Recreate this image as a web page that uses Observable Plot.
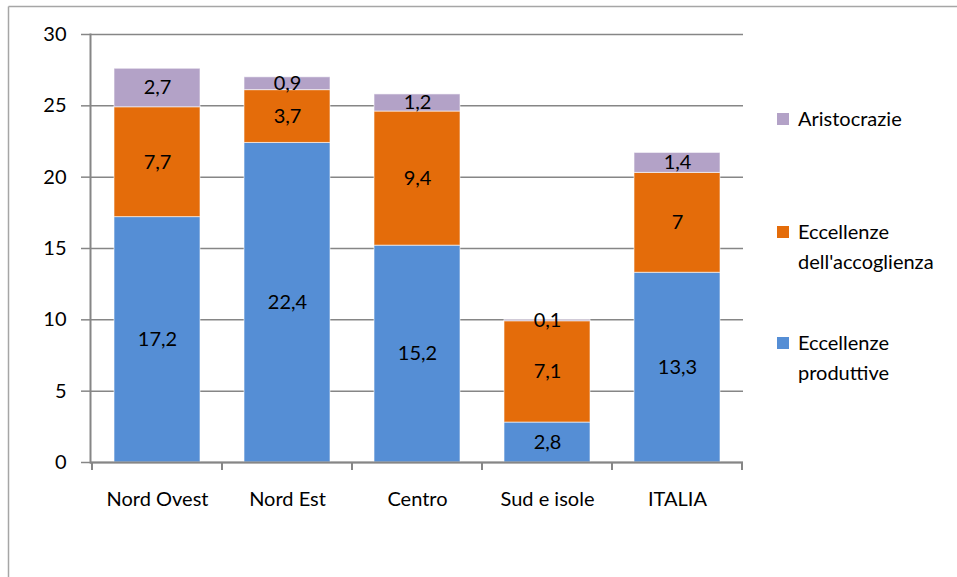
<!DOCTYPE html>
<html><head><meta charset="utf-8">
<script src="https://cdn.jsdelivr.net/npm/d3@7"></script>
<script src="https://cdn.jsdelivr.net/npm/@observablehq/plot@0.6"></script>
<style>body{margin:0;background:#fff;} #chart{position:relative;width:957px;height:577px;overflow:hidden}</style>
</head><body><div id="chart"></div>
<script>
const categories = ["Nord Ovest","Nord Est","Centro","Sud e isole","ITALIA"];
const series = ["Eccellenze produttive","Eccellenze dell'accoglienza","Aristocrazie"];
const produttive = [17.2,22.4,15.2,2.8,13.3];
const accoglienza = [7.7,3.7,9.4,7.1,7];
const aristocrazie = [2.7,0.9,1.2,0.1,1.4];
const yTicks = [0,5,10,15,20,25,30];
const colors = ["#558ed5","#e46c0a","#b3a2c7"];
const legendLines = [["Aristocrazie"],["Eccellenze","dell'accoglienza"],["Eccellenze","produttive"]];
const legendColors = ["#b3a2c7","#e46c0a","#558ed5"];

const values = [produttive, accoglienza, aristocrazie];
const data = series.flatMap((s,i)=>categories.map((c,j)=>({category:c, series:s, value:values[i][j]})));
const fmt = v => String(v).replace(".", ",");
const font = "Lato, 'Open Sans', sans-serif";
const fs = 20;
const gray = "#868686";

const plot = Plot.plot({
  width:957, height:577,
  marginLeft:90, marginRight:214, marginTop:34, marginBottom:115,
  style:{fontFamily:font, fontSize:fs+"px", color:"#000", background:"#fff"},
  x:{domain:categories, paddingInner:0.34, paddingOuter:0.17, label:null},
  y:{domain:[0,30], label:null},
  color:{domain:series, range:colors},
  marks:[
    Plot.gridY(yTicks, {stroke:gray, strokeOpacity:1, strokeWidth:1.5}),
    Plot.axisY(yTicks, {tickSize:9, tickPadding:15, stroke:gray, strokeWidth:1.5, fill:"#000", fontSize:fs, label:null, tickFormat:d=>d}),
    Plot.axisX({tickSize:0, tickPadding:29, fill:"#000", fontSize:fs, label:null}),
    Plot.barY(data, Plot.stackY({x:"category", y:"value", fill:"series", stroke:"#fff", strokeOpacity:0.6, strokeWidth:1})),
    Plot.text(data, Plot.stackY({x:"category", y:"value", z:"series", text:d=>fmt(d.value), fill:"#000", fontSize:fs})),
    Plot.ruleY([0], {stroke:gray, strokeWidth:2}),
    Plot.frame({anchor:"left", stroke:gray, strokeWidth:2})
  ]
});

document.getElementById("chart").appendChild(plot);
const svg = d3.select(plot);
const xs = plot.scale("x"), ys = plot.scale("y");
const gap = (xs.step - xs.bandwidth)/2;
const bounds = categories.map(c => xs.apply(c) - gap).concat([xs.apply(categories[categories.length-1]) + xs.bandwidth + gap]);
const y0 = ys.apply(0);
svg.append("g").selectAll("line").data(bounds).join("line")
  .attr("x1", d=>d).attr("x2", d=>d).attr("y1", y0).attr("y2", y0+8)
  .attr("stroke", gray).attr("stroke-width", 2);

// outer chart frame (left and top edges)
svg.append("line").attr("x1",8.5).attr("x2",8.5).attr("y1",6.5).attr("y2",577).attr("stroke","#a6a6a6").attr("stroke-width",1.5);
svg.append("line").attr("x1",8.5).attr("x2",957).attr("y1",6.5).attr("y2",6.5).attr("stroke","#a6a6a6").attr("stroke-width",1.5);

// legend
const legendY = [119, 232, 343];
const lg = svg.append("g").attr("font-family", font).attr("font-size", fs).attr("text-anchor", "start");
legendLines.forEach((lines, i) => {
  lg.append("rect").attr("x",777).attr("y",legendY[i]-6).attr("width",12).attr("height",12).attr("fill",legendColors[i]);
  lines.forEach((t, k) => {
    lg.append("text").attr("x",798).attr("y",legendY[i]+k*30).attr("dy","0.35em").attr("fill","#000").attr("text-anchor","start").text(t);
  });
});
</script>
</body></html>
